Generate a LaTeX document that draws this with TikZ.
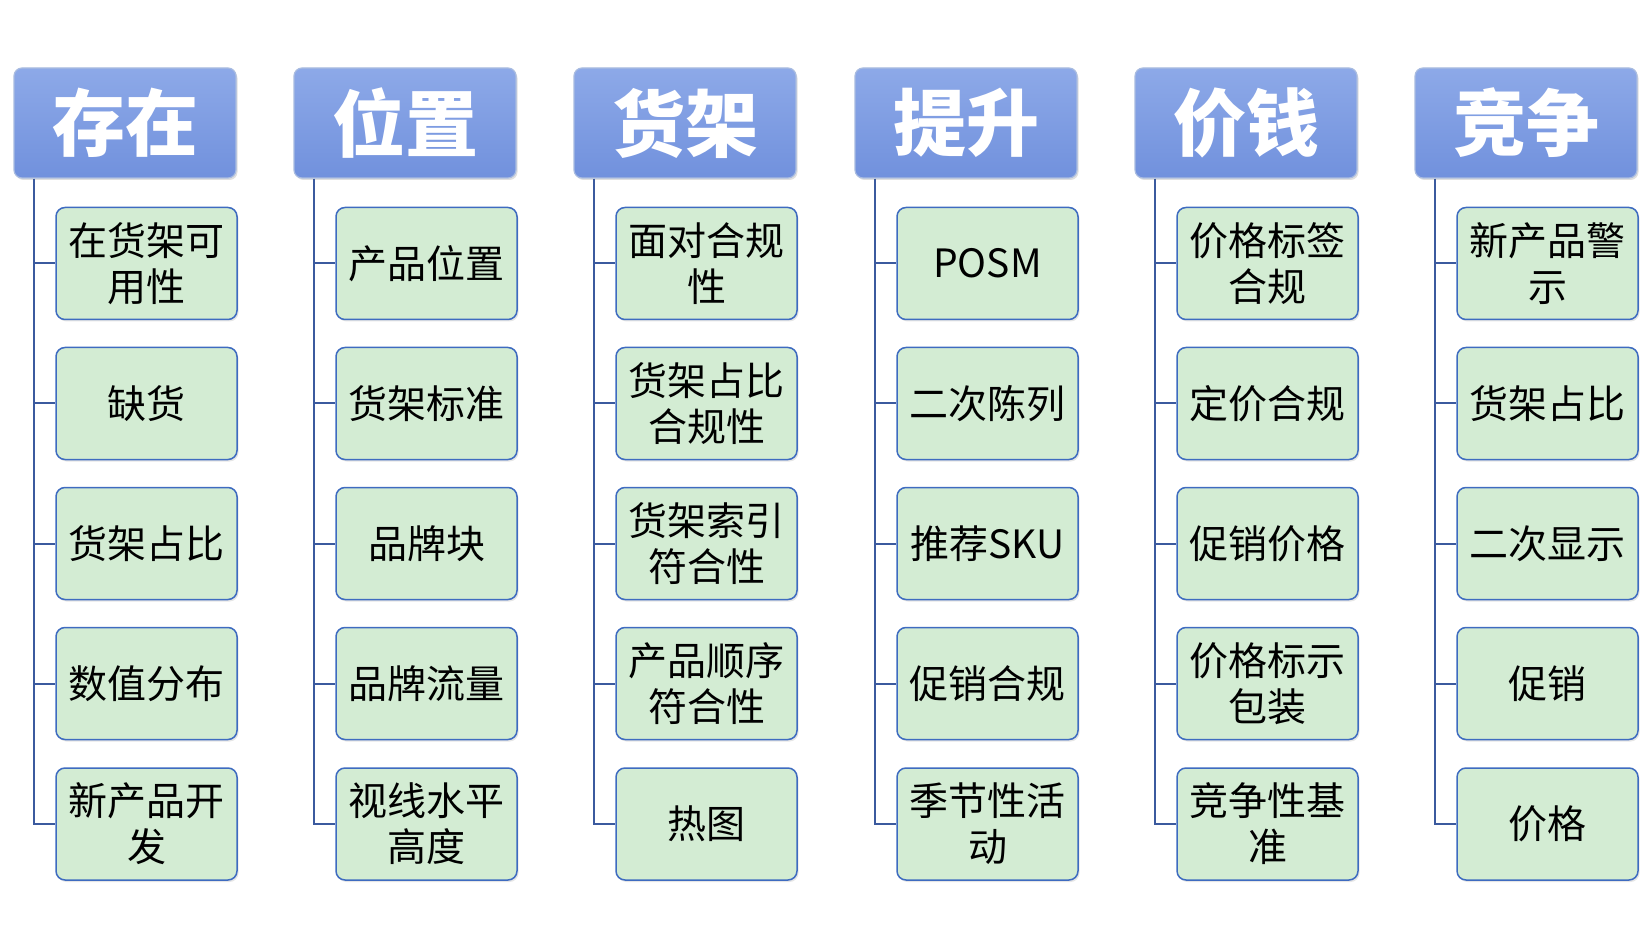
\documentclass[tikz,border=0pt]{standalone}
\usepackage{fontspec}
\setmainfont{Noto Sans CJK SC}
\usetikzlibrary{shadows}
\definecolor{headtop}{HTML}{8DA9E8}
\definecolor{headbot}{HTML}{7191DD}
\definecolor{headline}{HTML}{A9BCE0}
\definecolor{kidfill}{HTML}{D3ECD3}
\definecolor{kidline}{HTML}{3E6BC0}
\definecolor{conn}{HTML}{3B5A9E}
\tikzset{
  headbox/.style={rounded corners=8pt, top color=headtop, bottom color=headbot,
    draw=headline, line width=1.2pt, minimum width=222pt, minimum height=110pt,
    text=white, font=\fontsize{73}{78}\selectfont\bfseries, inner sep=0pt,
    drop shadow={opacity=0.25, shadow xshift=1.5pt, shadow yshift=-2pt}},
  kidbox/.style={rounded corners=9pt, fill=kidfill, draw=kidline, line width=1.5pt,
    minimum width=181pt, minimum height=112pt, align=center, inner sep=0pt,
    font=\fontsize{39}{46}\selectfont, text=black,
    drop shadow={opacity=0.2, shadow xshift=1.5pt, shadow yshift=-2pt}},
  connline/.style={draw=conn, line width=2pt}
}
\newcommand\mycol[8]{%
  \node[headbox] (h#1) at (#2+111,123) {#3};
  \node[kidbox] (c#1a) at (#2+132.5,263.5) {#4};
  \node[kidbox] (c#1b) at (#2+132.5,403.5) {#5};
  \node[kidbox] (c#1c) at (#2+132.5,543.5) {#6};
  \node[kidbox] (c#1d) at (#2+132.5,683.5) {#7};
  \node[kidbox] (c#1e) at (#2+132.5,824) {#8};
  \coordinate (t#1) at ([xshift=21pt]h#1.south west);
  \draw[connline] (t#1) |- (c#1e.west);
  \foreach \k in {a,b,c,d}{\draw[connline] (t#1 |- c#1\k.west) -- (c#1\k.west);}
}
\begin{document}
\begin{tikzpicture}[x=1pt,y=-1pt]
\useasboundingbox (0,0) rectangle (1652,949);
\mycol{1}{14}{存在}{在货架可\\用性}{缺货}{货架占比}{数值分布}{新产品开\\发}
\mycol{2}{294}{位置}{产品位置}{货架标准}{品牌块}{品牌流量}{视线水平\\高度}
\mycol{3}{574}{货架}{面对合规\\性}{货架占比\\合规性}{货架索引\\符合性}{产品顺序\\符合性}{热图}
\mycol{4}{855}{提升}{POSM}{二次陈列}{推荐SKU}{促销合规}{季节性活\\动}
\mycol{5}{1135}{价钱}{价格标签\\合规}{定价合规}{促销价格}{价格标示\\包装}{竞争性基\\准}
\mycol{6}{1415}{竞争}{新产品警\\示}{货架占比}{二次显示}{促销}{价格}
\end{tikzpicture}
\end{document}
